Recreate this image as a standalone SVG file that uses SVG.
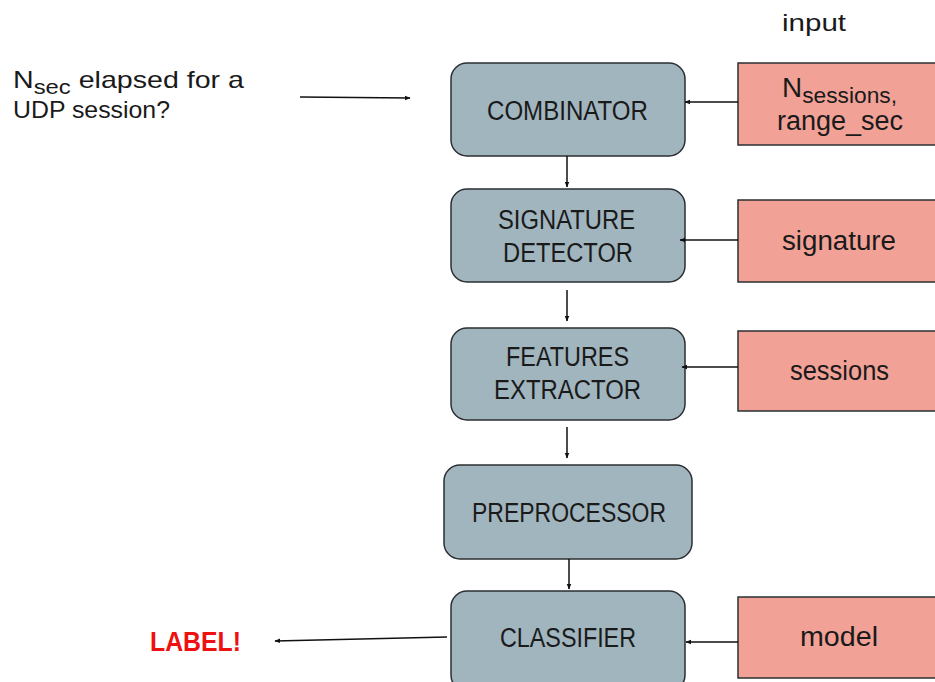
<svg xmlns="http://www.w3.org/2000/svg" width="935" height="682" viewBox="0 0 935 682">
  <style>
    .stage { fill: #a1b5bf; stroke: #2b2f31; stroke-width: 1.5; }
    .param { fill: #f2a197; stroke: #2b2f31; stroke-width: 1.5; }
    text { font-family: "Liberation Sans", Arial, sans-serif; font-size: 27px; fill: #1a1a1a; }
    .c { text-anchor: middle; }
    .note { font-size: 24px; }
    .wire { stroke: #111; stroke-width: 1.5; fill: none; marker-end: url(#tip); }
    .label { font-weight: bold; fill: #ee1111; font-size: 28px; }
  </style>
  <defs>
    <marker id="tip" viewBox="0 0 10 10" refX="9" refY="5" markerWidth="6" markerHeight="6" markerUnits="userSpaceOnUse" orient="auto">
      <path d="M0,1 L10,5 L0,9 z" fill="#111"/>
    </marker>
  </defs>

  <rect width="935" height="682" fill="#ffffff"/>

  <text x="782" y="31" class="note" textLength="64" lengthAdjust="spacingAndGlyphs">input</text>

  <g id="question">
    <text x="13" y="88" class="note" textLength="231" lengthAdjust="spacingAndGlyphs">N<tspan font-size="20" dy="6">sec</tspan><tspan dy="-6"> elapsed for a</tspan></text>
    <text x="13" y="118" class="note" textLength="157" lengthAdjust="spacingAndGlyphs">UDP session?</text>
  </g>

  <g id="result">
    <text x="150" y="651" class="label" textLength="91" lengthAdjust="spacingAndGlyphs">LABEL!</text>
  </g>

  <g id="combinator">
    <rect class="stage" x="451" y="63" width="234" height="93" rx="16"/>
    <text x="487" y="120" textLength="161" lengthAdjust="spacingAndGlyphs">COMBINATOR</text>
  </g>
  <g id="signature-detector">
    <rect class="stage" x="451" y="189" width="234" height="93" rx="16"/>
    <text x="498" y="229" textLength="137" lengthAdjust="spacingAndGlyphs">SIGNATURE</text>
    <text x="503" y="262" textLength="130" lengthAdjust="spacingAndGlyphs">DETECTOR</text>
  </g>
  <g id="features-extractor">
    <rect class="stage" x="451" y="328" width="234" height="92" rx="16"/>
    <text x="506" y="366" textLength="123" lengthAdjust="spacingAndGlyphs">FEATURES</text>
    <text x="494" y="399" textLength="147" lengthAdjust="spacingAndGlyphs">EXTRACTOR</text>
  </g>
  <g id="preprocessor">
    <rect class="stage" x="444" y="465" width="248" height="94" rx="16"/>
    <text x="472" y="522" textLength="194" lengthAdjust="spacingAndGlyphs">PREPROCESSOR</text>
  </g>
  <g id="classifier">
    <rect class="stage" x="451" y="591" width="234" height="100" rx="16"/>
    <text x="500" y="647" textLength="136" lengthAdjust="spacingAndGlyphs">CLASSIFIER</text>
  </g>

  <g id="sessions-range">
    <rect class="param" x="738" y="63" width="210" height="82"/>
    <text x="782" y="97" textLength="115" lengthAdjust="spacingAndGlyphs">N<tspan font-size="22" dy="6">sessions,</tspan></text>
    <text x="777" y="130" textLength="126" lengthAdjust="spacingAndGlyphs">range_sec</text>
  </g>
  <g id="signature">
    <rect class="param" x="738" y="200" width="210" height="82"/>
    <text x="782" y="250" textLength="114" lengthAdjust="spacingAndGlyphs">signature</text>
  </g>
  <g id="sessions">
    <rect class="param" x="738" y="331" width="210" height="80"/>
    <text x="790" y="380" textLength="99" lengthAdjust="spacingAndGlyphs">sessions</text>
  </g>
  <g id="model">
    <rect class="param" x="738" y="597" width="210" height="81"/>
    <text x="800" y="646" textLength="78" lengthAdjust="spacingAndGlyphs">model</text>
  </g>

  <g id="connectors">
    <line class="wire" x1="300" y1="97" x2="410" y2="98"/>
    <line class="wire" x1="738" y1="102" x2="685" y2="102"/>
    <line class="wire" x1="738" y1="240" x2="680" y2="240"/>
    <line class="wire" x1="738" y1="367" x2="682" y2="367"/>
    <line class="wire" x1="738" y1="642" x2="686" y2="642"/>
    <line class="wire" x1="567" y1="156" x2="567" y2="187"/>
    <line class="wire" x1="567" y1="290" x2="567" y2="321"/>
    <line class="wire" x1="567" y1="427" x2="567" y2="458"/>
    <line class="wire" x1="569" y1="559" x2="569" y2="589"/>
    <line class="wire" x1="447" y1="637" x2="275" y2="641"/>
  </g>
</svg>
